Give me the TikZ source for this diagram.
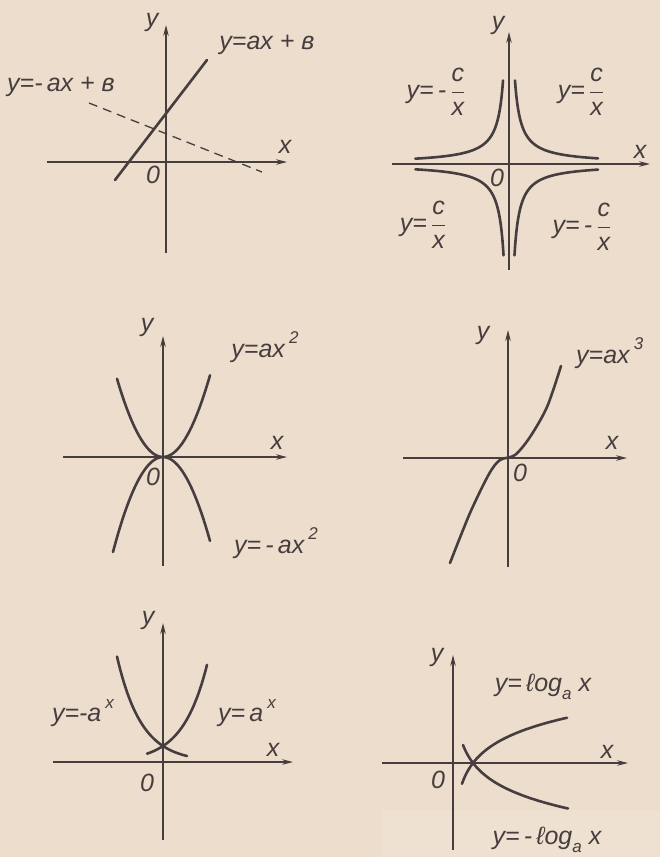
\documentclass[tikz,border=0pt]{standalone}
\usepackage{fontspec}
\setmainfont{Liberation Sans}
\usetikzlibrary{arrows.meta}
\definecolor{paper}{RGB}{236,221,205}
\definecolor{paperlight}{RGB}{239,225,210}
\definecolor{ink}{RGB}{70,62,62}
\newcommand\mysup[1]{\,\raisebox{0.55em}{\fontsize{17}{17}\selectfont #1}}
\newcommand\mysub[1]{\raisebox{-0.3em}{\fontsize{17}{17}\selectfont #1}}
\newcommand\myfr[2]{$\displaystyle\frac{\mbox{#1}}{\mbox{#2}}$}
\tikzset{
  axisline/.style={draw=ink, line width=1.1pt, -{Stealth[length=11pt,width=5.5pt]}},
  curveline/.style={draw=ink, line width=2.6pt, line cap=round, smooth},
  lbl/.style={text=ink, font=\fontsize{25}{25}\selectfont\itshape, inner sep=0pt},
}
\begin{document}
\begin{tikzpicture}[x=1pt,y=-1pt]
\fill[paper] (0,0) rectangle (660,857);
\useasboundingbox (0,0) rectangle (660,857);
\fill[paperlight] (382,810) rectangle (660,857);

% ---------- Panel 1: linear ----------
\coordinate (a1x0) at (47,162); \coordinate (a1x1) at (287,162);
\coordinate (a1y0) at (166,253); \coordinate (a1y1) at (166,25);
\draw[axisline] (a1x0) -- (a1x1);
\draw[axisline] (a1y0) -- (a1y1);
\coordinate (l1a) at (115,180); \coordinate (l1b) at (207,60);
\draw[curveline] (l1a) -- (l1b);
\coordinate (l2a) at (89,103); \coordinate (l2b) at (262,172);
\draw[draw=ink, line width=1.3pt, dash pattern=on 9pt off 6pt] (l2a) -- (l2b);
\node[lbl] (t1a) at (267,45) {y=ax + в};
\node[lbl] (t1b) at (61,87) {y=-\,ax + в};
\node[lbl] (t1y) at (152,22) {y};
\node[lbl] (t1x) at (285,147) {x};
\node[lbl] (t1o) at (153,175) {0};

% ---------- Panel 2: hyperbolas ----------
\coordinate (a2x0) at (392,164); \coordinate (a2x1) at (650,164);
\coordinate (a2y0) at (509,270); \coordinate (a2y1) at (509,32);
\draw[axisline] (a2x0) -- (a2x1);
\draw[axisline] (a2y0) -- (a2y1);
\draw[curveline] plot[domain=1.79:4.49, samples=80] ({509+exp(\x)},{164-500/exp(\x)});
\draw[curveline] plot[domain=1.79:4.54, samples=80] ({509-exp(\x)},{164-500/exp(\x)});
\draw[curveline] plot[domain=1.70:4.54, samples=80] ({509-exp(\x)},{164+500/exp(\x)});
\draw[curveline] plot[domain=1.70:4.49, samples=80] ({509+exp(\x)},{164+500/exp(\x)});
\node[lbl] (t2a) at (436,92) {y=\,-\,\myfr{c}{x}};
\node[lbl] (t2b) at (581,92) {y=\,\myfr{c}{x}};
\node[lbl] (t2c) at (423,225) {y=\,\myfr{c}{x}};
\node[lbl] (t2d) at (582,227) {y=\,-\,\myfr{c}{x}};
\node[lbl] (t2y) at (498,25) {y};
\node[lbl] (t2x) at (640,152) {x};
\node[lbl] (t2o) at (497,178) {0};

% ---------- Panel 3: parabolas ----------
\coordinate (a3x0) at (63,457); \coordinate (a3x1) at (287,457);
\coordinate (a3y0) at (163,566); \coordinate (a3y1) at (163,336);
\draw[axisline] (a3x0) -- (a3x1);
\draw[axisline] (a3y0) -- (a3y1);
\draw[curveline] plot[domain=117:210, samples=60] ({\x},{457-0.037*(\x-163)*(\x-163)});
\draw[curveline] plot[domain=113:210, samples=60] ({\x},{457+0.038*(\x-163)*(\x-163)});
\node[lbl] (t3a) at (265,347) {y=ax\mysup{2}};
\node[lbl] (t3b) at (276,543) {y=\,-\,ax\mysup{2}};
\node[lbl] (t3y) at (147,327) {y};
\node[lbl] (t3x) at (277,443) {x};
\node[lbl] (t3o) at (153,477) {0};

% ---------- Panel 4: cubic ----------
\coordinate (a4x0) at (403,458); \coordinate (a4x1) at (627,458);
\coordinate (a4y0) at (508,567); \coordinate (a4y1) at (508,330);
\draw[axisline] (a4x0) -- (a4x1);
\draw[axisline] (a4y0) -- (a4y1);
\draw[curveline] plot coordinates {(450,563) (470,513) (489,474) (500,460) (515,455) (530,437) (547,407) (561,366)};
\node[lbl, anchor=west] (t4a) at (576,353) {y=ax\mysup{3}};
\node[lbl] (t4y) at (483,335) {y};
\node[lbl] (t4x) at (612,443) {x};
\node[lbl] (t4o) at (520,473) {0};

% ---------- Panel 5: exponentials ----------
\coordinate (a5x0) at (53,762); \coordinate (a5x1) at (293,762);
\coordinate (a5y0) at (163,840); \coordinate (a5y1) at (163,623);
\draw[axisline] (a5x0) -- (a5x1);
\draw[axisline] (a5y0) -- (a5y1);
\draw[curveline] plot[domain=147:207, samples=50] ({\x},{762-16*exp(0.041*(\x-163))});
\draw[curveline] plot[domain=117:187, samples=50] ({\x},{762-16*exp(-0.041*(\x-163))});
\node[lbl] (t5a) at (83,713) {y=-a\mysup{x}};
\node[lbl] (t5b) at (247,713) {y=\,a\mysup{x}};
\node[lbl] (t5y) at (148,620) {y};
\node[lbl] (t5x) at (273,750) {x};
\node[lbl] (t5o) at (147,783) {0};

% ---------- Panel 6: logarithms ----------
\coordinate (a6x0) at (382,763); \coordinate (a6x1) at (628,763);
\coordinate (a6y0) at (453,850); \coordinate (a6y1) at (453,655);
\draw[axisline] (a6x0) -- (a6x1);
\draw[axisline] (a6y0) -- (a6y1);
\draw[curveline] plot[domain=462:567, samples=60] ({\x},{763-26*ln((\x-453)/20)});
\draw[curveline] plot[domain=463:568, samples=60] ({\x},{763+26*ln((\x-453)/20)});
\node[lbl] (t6a) at (543,687) {y=\,ℓog\mysub{a} x};
\node[lbl] (t6b) at (547,840) {y=\,-\,ℓog\mysub{a} x};
\node[lbl] (t6y) at (437,657) {y};
\node[lbl] (t6x) at (607,752) {x};
\node[lbl] (t6o) at (438,780) {0};
\end{tikzpicture}
\end{document}
